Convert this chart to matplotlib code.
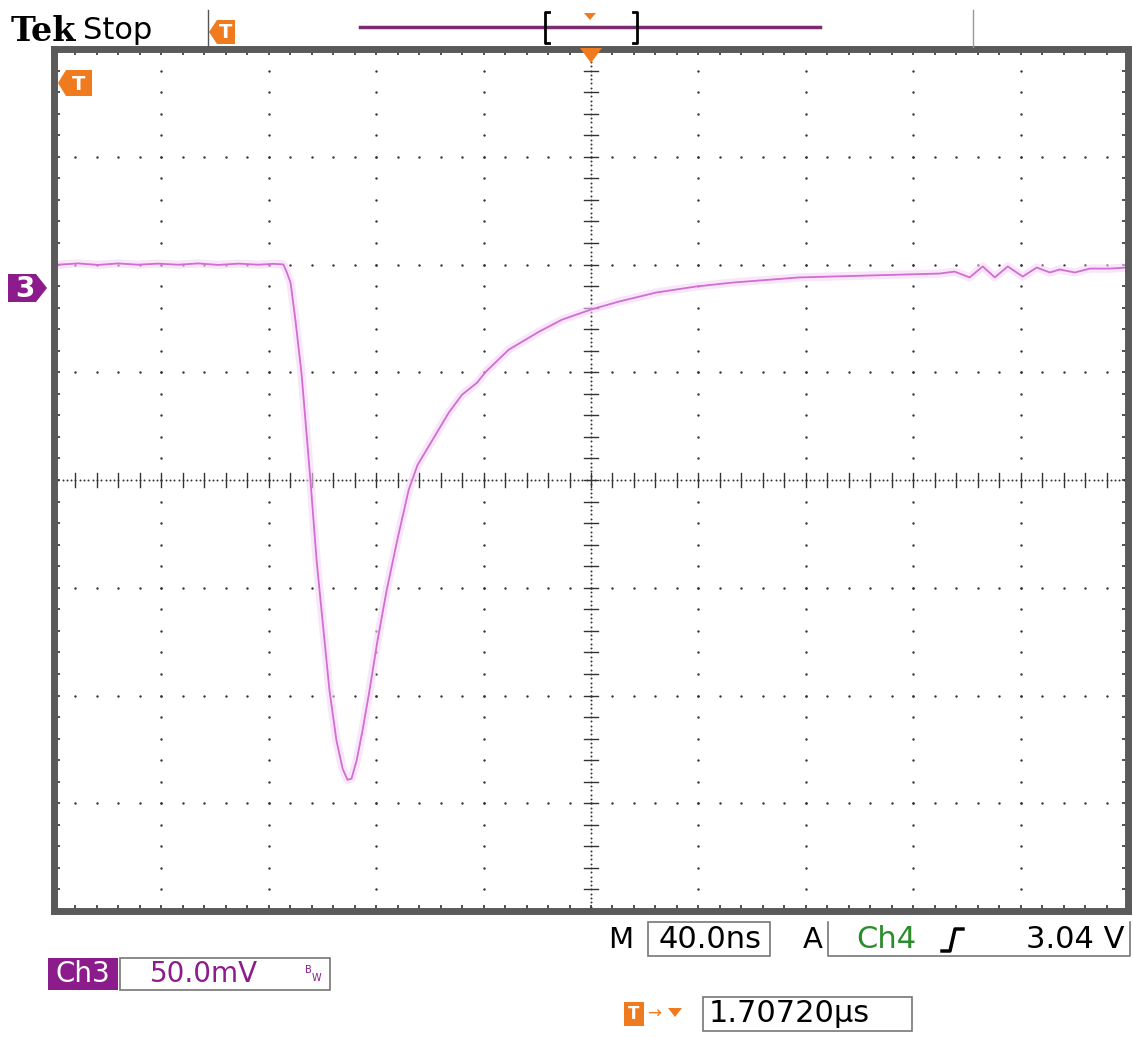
import numpy as np
import matplotlib.pyplot as plt
from matplotlib.patches import Polygon, Rectangle

# Ch3 trace: time [ns] from centre, level [mV] from ch3 ground
t_ns = [-198.5, -191.0, -183.6, -176.1, -168.7, -161.2, -153.7, -146.3, -138.8,
        -131.3, -123.9, -118.3, -115.3, -114.6, -113.4, -111.9, -110.1, -107.8,
        -104.5, -102.2, -100.0, -97.4, -94.8, -92.5, -90.7, -89.2, -87.3, -85.1,
        -82.5, -79.5, -76.1, -72.0, -67.9, -64.6, -59.7, -53.0, -48.1, -42.5,
        -39.2, -30.6, -19.4, -10.8, 0.0, 10.4, 24.3, 39.2, 52.6, 77.6, 103.7,
        129.9, 135.4, 141.0, 145.9, 150.4, 155.2, 160.8, 166.0, 170.9, 174.6,
        180.2, 185.8, 193.3, 199.6]
v_mv = [10.6, 11.2, 10.5, 11.2, 10.6, 11.1, 10.6, 11.2, 10.5,
        11.1, 10.6, 11.0, 10.8, 10.7, 7.4, 2.3, -14.9, -40.0,
        -89.3, -126.5, -154.4, -187.0, -210.2, -223.3, -228.4, -227.9, -219.5, -205.6,
        -187.0, -163.7, -140.5, -116.3, -93.9, -82.3, -72.1, -58.1, -49.8, -44.2,
        -39.1, -28.8, -20.5, -14.9, -10.2, -6.5, -2.3, 0.5, 2.3, 4.7, 5.6,
        6.5, 7.4, 4.7, 9.8, 4.7, 9.8, 5.1, 9.3, 7.0, 8.4,
        7.0, 8.8, 8.8, 9.3]

ns_per_div = 40.0
mv_per_div = 50.0
ch3_offset = 1.786   # ground marker, in divisions

W, H = 1133, 1037
orange = '#f07a1e'
purple = '#8c1c8c'
trace = '#cf6fcf'

fig = plt.figure(figsize=(W / 100, H / 100), dpi=100)
fig.patch.set_facecolor('white')

ax = fig.add_axes([54 / W, 1 - 911 / H, (1128 - 54) / W, (911 - 49) / H])
ax.set_xlim(-5, 5)
ax.set_ylim(-4, 4)
ax.set_xticks(np.arange(-5, 5.01, 0.2))
ax.set_yticks(np.arange(-4, 4.01, 0.2))
ax.tick_params(which='both', direction='in', length=4, width=1.2, color='#333333',
               top=True, right=True, labelbottom=False, labelleft=False)
for s in ax.spines.values():
    s.set_linewidth(5)
    s.set_color('#5a5a5a')

# graticule: dotted lines at each division, dense centre lines
fine = np.arange(-5, 5.001, 0.2)
fine_y = np.arange(-4, 4.001, 0.2)
for gx in range(-4, 5):
    if gx == 0:
        continue
    ax.scatter(np.full_like(fine_y, gx), fine_y, s=3, color='#333333', lw=0)
for gy in range(-3, 4):
    if gy == 0:
        continue
    ax.scatter(fine, np.full_like(fine, gy), s=3, color='#333333', lw=0)
dense_x = np.arange(-5, 5.001, 0.04)
dense_y = np.arange(-4, 4.001, 0.04)
ax.scatter(dense_x, np.zeros_like(dense_x), s=2, color='#333333', lw=0)
ax.scatter(np.zeros_like(dense_y), dense_y, s=2, color='#333333', lw=0)
for f in fine:
    ax.plot([f, f], [-0.065, 0.065], color='#333333', lw=1)
for f in fine_y:
    ax.plot([-0.065, 0.065], [f, f], color='#333333', lw=1)

xd = np.array(t_ns) / ns_per_div
yd = np.array(v_mv) / mv_per_div + ch3_offset
ax.plot(xd, yd, color='#f7d6f7', lw=6, alpha=0.6, solid_joinstyle='round',
        solid_capstyle='round')
ax.plot(xd, yd, color=trace, lw=1.3, solid_joinstyle='round')

# overlay in screen pixels for the scope annotations
ov = fig.add_axes([0, 0, 1, 1], zorder=5)
ov.set_xlim(0, W)
ov.set_ylim(H, 0)
ov.axis('off')
ov.patch.set_alpha(0)

ov.text(11, 41, 'Tek', fontsize=24, fontweight='bold', family='DejaVu Serif', color='black')
ov.text(83, 39, 'Stop', fontsize=22, family='DejaVu Sans', color='black')

def t_flag(x, y, w=30, h=24, point='left'):
    if point == 'left':
        pts = [(x, y + h / 2), (x + 8, y), (x + w, y), (x + w, y + h), (x + 8, y + h)]
        cx = x + 8 + (w - 8) / 2
    else:
        pts = [(x, y), (x + w, y), (x + w, y + h), (x, y + h)]
        cx = x + w / 2
    ov.add_patch(Polygon(pts, closed=True, color=orange, lw=0))
    ov.text(cx, y + h / 2 + 1, 'T', color='white', fontsize=14, fontweight='bold',
            ha='center', va='center')

ov.plot([208, 208], [10, 47], color='#555555', lw=1)
t_flag(209, 20, 26, 24)
t_flag(58, 70, 34, 26)

# record bar
ov.plot([360, 820], [27, 27], color='#7a2a6e', lw=2.5)
ov.plot([549, 545, 545, 549], [12, 12, 43, 43], color='black', lw=2)
ov.plot([633, 637, 637, 633], [12, 12, 43, 43], color='black', lw=2)
ov.add_patch(Polygon([(584, 13), (596, 13), (590, 20)], color=orange, lw=0))
ov.plot([973, 973], [10, 47], color='#999999', lw=1)
ov.add_patch(Polygon([(580, 48), (602, 48), (591, 63)], color=orange, lw=0))

# ch3 ground marker
ov.add_patch(Polygon([(8, 274), (36, 274), (47, 288), (36, 302), (8, 302)],
                     color=purple, lw=0))
ov.text(25, 289, '3', color='white', fontsize=20, fontweight='bold', ha='center', va='center')

# readouts
ov.text(608, 940, 'M', fontsize=21, color='black', va='center')
ov.add_patch(Rectangle((648, 922), 122, 34, fill=False, ec='#777777', lw=1.2))
ov.text(710, 940, '40.0ns', fontsize=22, color='black', ha='center', va='center')
ov.text(803, 940, 'A', fontsize=21, color='black', va='center')
ov.plot([828, 828, 1130, 1130], [922, 956, 956, 922], color='#777777', lw=1.2)
ov.text(856, 940, 'Ch4', fontsize=22, color='#2a8c2a', va='center')
ov.plot([942, 950, 955, 963], [951, 951, 929, 929], color='black', lw=2.5)
ov.text(1125, 940, '3.04 V', fontsize=22, color='black', ha='right', va='center')

ov.add_patch(Rectangle((48, 958), 70, 32, color=purple, lw=0))
ov.text(83, 974, 'Ch3', fontsize=20, color='white', ha='center', va='center')
ov.add_patch(Rectangle((120, 958), 210, 32, fill=False, ec='#777777', lw=1.2))
ov.text(204, 974, '50.0mV', fontsize=20, color=purple, ha='center', va='center')
ov.text(305, 970, 'B', fontsize=7, color=purple, ha='left', va='center')
ov.text(312, 978, 'W', fontsize=7, color=purple, ha='left', va='center')

ov.add_patch(Rectangle((624, 1002), 20, 24, color=orange, lw=0))
ov.text(634, 1014, 'T', color='white', fontsize=12, fontweight='bold', ha='center', va='center')
ov.text(647, 1014, '→', color=orange, fontsize=12, va='center')
ov.add_patch(Polygon([(668, 1008), (682, 1008), (675, 1017)], color=orange, lw=0))
ov.add_patch(Rectangle((703, 997), 209, 34, fill=False, ec='#777777', lw=1.2))
ov.text(709, 1014, '1.70720µs', fontsize=22, color='black', va='center')

fig.savefig('out.png', dpi=100)
